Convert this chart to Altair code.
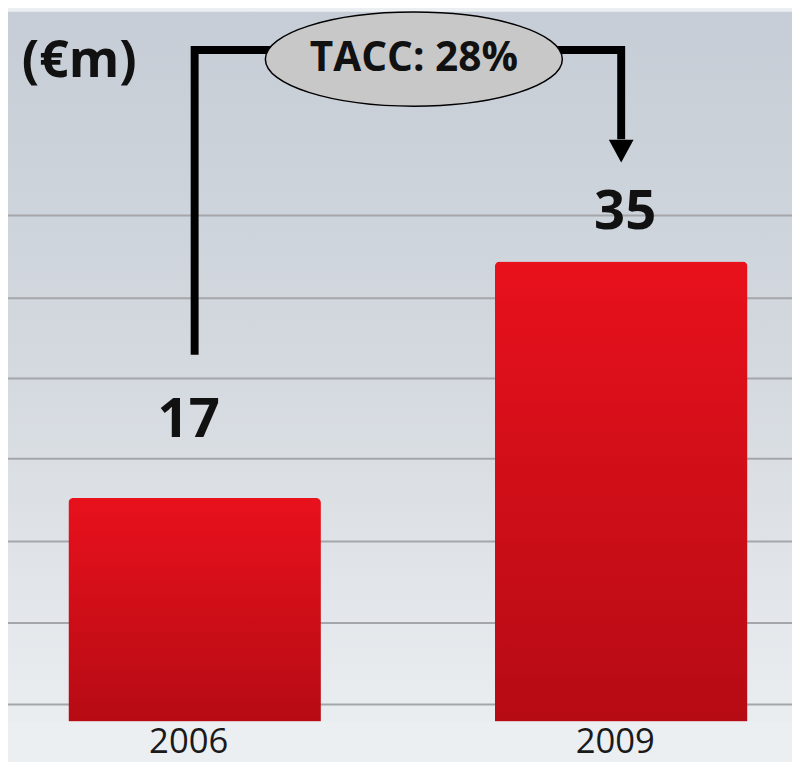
import altair as alt
import pandas as pd

# ---- data ----
years = ["2006", "2009"]
values = [17, 35]

# decorative horizontal guide lines (in €m units)
grid_values = [1.3, 7.5, 13.7, 20.0, 26.1, 32.2, 38.5]

# growth connector path (in data units)
connector_years = ["2006", "2006", "2009", "2009"]
connector_y = [27.9, 51.1, 51.1, 44.3]
connector_order = [0, 1, 2, 3]

arrow_year = ["2009"]
arrow_y = [43.4]

badge_text = ["TACC: 28%"]
badge_y = [50.4]

unit_label = ["(€m)"]

# ---- layout ----
W, H = 792, 717
Y_MAX = 54
X_RANGE = [61, 747]
PAD_INNER = 0.408
STEP = (X_RANGE[1] - X_RANGE[0]) / (2 - PAD_INNER)
GAP_HALF = STEP * PAD_INNER / 2  # from the right edge of the first bar to the midpoint
FONT = "Open Sans"

bars_df = pd.DataFrame({"year": years, "value": values})
grid_df = pd.DataFrame({"g": grid_values})
conn_df = pd.DataFrame({"year": connector_years, "y": connector_y, "order": connector_order})
arrow_df = pd.DataFrame({"year": arrow_year, "y": arrow_y})
badge_df = pd.DataFrame({"year": ["2006"], "y": badge_y, "label": badge_text})
unit_df = pd.DataFrame({"t": unit_label})
bg_df = pd.DataFrame({"k": [0]})

xscale = alt.Scale(domain=years, range=X_RANGE, paddingInner=PAD_INNER, paddingOuter=0)
yscale = alt.Scale(domain=[0, Y_MAX], nice=False, zero=True)

bar_fill = {
    "gradient": "linear", "x1": 0, "y1": 0, "x2": 0, "y2": 1,
    "stops": [
        {"offset": 0, "color": "#e8111c"},
        {"offset": 1, "color": "#b60b14"},
    ],
}
bg_fill = {
    "gradient": "linear", "x1": 0, "y1": 0, "x2": 0, "y2": 1,
    "stops": [
        {"offset": 0, "color": "#c6cdd6"},
        {"offset": 0.5, "color": "#d4d9df"},
        {"offset": 1, "color": "#eaedf0"},
    ],
}

background = alt.Chart(bg_df).mark_rect(fill=bg_fill).encode(
    x=alt.value(0), x2=alt.value(W), y=alt.value(0), y2=alt.value(H)
)

grid = alt.Chart(grid_df).mark_rule(color="#a4a6a9", strokeWidth=2).encode(
    y=alt.Y("g:Q", scale=yscale, axis=None, title=None)
)

x_main = alt.X(
    "year:N", scale=xscale, title=None,
    axis=alt.Axis(
        labelAngle=0, domain=False, ticks=False, tickSize=0, grid=False,
        labelFontSize=35, labelFont=FONT, labelColor="#1a1a1a",
        labelPadding=31, labelBaseline="alphabetic", labelOffset=-6,
    ),
)

bars = alt.Chart(bars_df).mark_bar(
    fill=bar_fill, cornerRadiusTopLeft=5, cornerRadiusTopRight=5
).encode(x=x_main, y=alt.Y("value:Q", title=None, axis=None))

connector = alt.Chart(conn_df).mark_line(
    color="black", strokeWidth=8, strokeJoin="miter", strokeCap="butt"
).encode(
    x=alt.X("year:N", title=None),
    y=alt.Y("y:Q", title=None, axis=None),
    order="order:Q",
)

arrow = alt.Chart(arrow_df).mark_point(
    shape="M -1 -0.92 L 1 -0.92 L 0 0.92 Z", size=625,
    filled=True, color="black", opacity=1,
).encode(x=alt.X("year:N", title=None), y=alt.Y("y:Q", title=None, axis=None))

badge = alt.Chart(badge_df).mark_point(
    shape="M -1 0 A 1 0.317 0 1 0 1 0 A 1 0.317 0 1 0 -1 0 Z", size=90000,
    filled=True, fill="#c8c8c8", stroke="#000000", strokeWidth=1.5, opacity=1,
    xOffset=GAP_HALF + 6,
).encode(
    x=alt.X("year:N", title=None, bandPosition=1),
    y=alt.Y("y:Q", title=None, axis=None),
)

badge_label = alt.Chart(badge_df).mark_text(
    font=FONT, fontSize=41, fontWeight="bold", color="#111111",
    align="center", baseline="middle", xOffset=GAP_HALF + 6,
).encode(
    x=alt.X("year:N", title=None, bandPosition=1),
    y=alt.Y("y:Q", title=None, axis=None),
    text="label:N",
)

label_2006 = alt.Chart(bars_df).transform_filter(alt.datum.year == "2006").mark_text(
    font=FONT, fontSize=55, fontWeight="bold", color="#111111",
    align="center", baseline="alphabetic", dy=-62, dx=-6,
).encode(x=alt.X("year:N", title=None), y=alt.Y("value:Q", title=None, axis=None), text="value:Q")

label_2009 = alt.Chart(bars_df).transform_filter(alt.datum.year == "2009").mark_text(
    font=FONT, fontSize=55, fontWeight="bold", color="#111111",
    align="center", baseline="alphabetic", dy=-33, dx=4,
).encode(x=alt.X("year:N", title=None), y=alt.Y("value:Q", title=None, axis=None), text="value:Q")

unit = alt.Chart(unit_df).mark_text(
    font=FONT, fontSize=52, fontWeight="bold", color="#111111",
    align="left", baseline="alphabetic",
).encode(x=alt.value(14), y=alt.value(66), text="t:N")

chart = alt.layer(
    background, grid, bars, connector, arrow, badge, badge_label, label_2006, label_2009, unit
).properties(
    width=W, height=H,
    autosize=alt.AutoSizeParams(type="none"),
    padding={"left": 0, "top": 0, "right": 0, "bottom": 37},
    background="#eceff2",
).configure_view(strokeWidth=0)

chart.save("out.html", embed_options={"renderer": "svg", "actions": False})
